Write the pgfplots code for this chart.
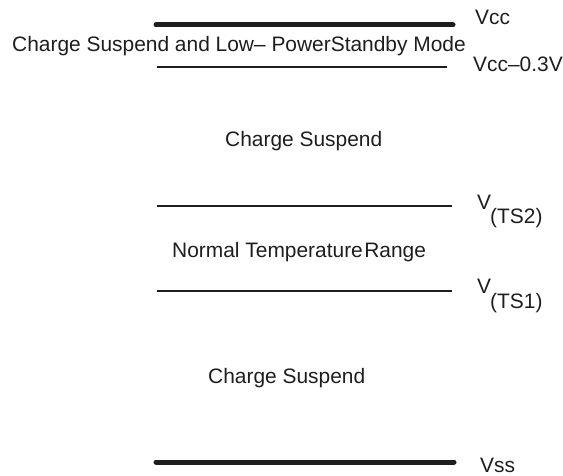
\documentclass[border=0pt]{standalone}
\usepackage{fontspec}
\setmainfont{Liberation Sans}
\usepackage{pgfplots}
\pgfplotsset{compat=1.18}
\definecolor{lvink}{HTML}{1E1E1E}

\begin{document}
\begin{tikzpicture}
\begin{axis}[
  scale only axis, width=563bp, height=476bp,
  xmin=0, xmax=563, ymin=0, ymax=476, y dir=reverse,
  hide axis, clip=false,
]
% keep the page as large as the reference
\path[draw=none] (rel axis cs:0,0) rectangle (rel axis cs:1,1);

% rails (thick) and thresholds (thin)
\addplot[draw=lvink, line width=5bp, line cap=round] coordinates {(156,25) (453,25)};
\addplot[draw=lvink, line width=1.1bp] coordinates {(157,67) (447,67)};
\addplot[draw=lvink, line width=1.1bp] coordinates {(157,206) (452,206)};
\addplot[draw=lvink, line width=1.1bp] coordinates {(157,291) (452,291)};
\addplot[draw=lvink, line width=5bp, line cap=round] coordinates {(156,462) (454,462)};

\tikzset{lbl/.style={anchor=base west, inner sep=0pt, text=lvink, font=\fontsize{21}{25}\selectfont}}
\node[lbl] at (axis cs:12,52) {Charge Suspend and Low-- PowerStandby Mode};
\node[lbl] at (axis cs:475,25) {Vcc};
\node[lbl] at (axis cs:473,72) {Vcc--0.3V};
\node[lbl] at (axis cs:225,146) {Charge Suspend};
\node[lbl] at (axis cs:172,257) {Normal Temperature\kern1.5pt Range};
\node[lbl] at (axis cs:477,209) {V};
\node[lbl] at (axis cs:490,223) {(TS2)};
\node[lbl] at (axis cs:477,293) {V};
\node[lbl] at (axis cs:490,308) {(TS1)};
\node[lbl] at (axis cs:208,383) {Charge Suspend};
\node[lbl] at (axis cs:480,472) {Vss};
\end{axis}
\end{tikzpicture}
\end{document}
